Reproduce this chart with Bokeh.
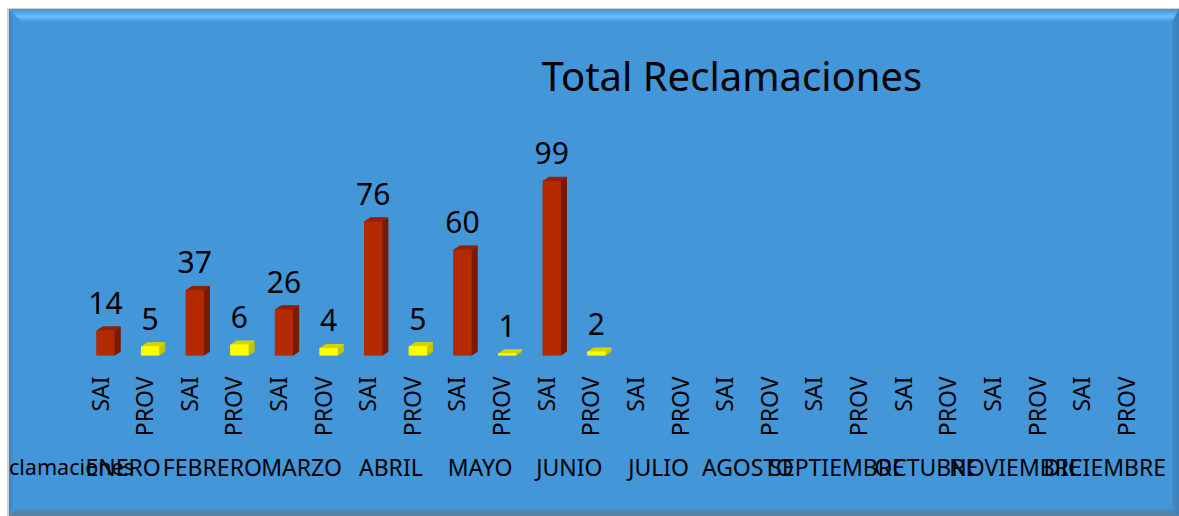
from urllib.parse import quote
from bokeh.plotting import figure
from bokeh.models import Range1d, LinearAxis, FixedTicker, Title
from bokeh.embed import file_html
from bokeh.resources import INLINE
from bokeh.core.properties import value

months = ["ENERO", "FEBRERO", "MARZO", "ABRIL", "MAYO", "JUNIO", "JULIO", "AGOSTO",
          "SEPTIEMBRE", "OCTUBRE", "NOVIEMBRE", "DICIEMBRE"]
series_names = ["SAI", "PROV"]
sai_values = [14, 37, 26, 76, 60, 99]
prov_values = [5, 6, 4, 5, 1, 2]
title_text = "Total Reclamaciones"
row_label = "clamaciones"

FONT = "Noto Sans"
W, H = 1179, 516
BG = "#4396D8"
PX_X = 44.62            # px per category slot
PX_Y = 1.76             # px per unit
LEFT_PX = 99            # canvas px to slot 0 tick
TOP_H = 102             # frame top
BASE_Y = 355            # baseline
BOTTOM = H - BASE_Y
FRAME_H = BASE_Y - TOP_H

p = figure(width=W, height=H, output_backend="svg", toolbar_location=None,
           min_border_left=0, min_border_right=0, min_border_top=TOP_H,
           min_border_bottom=BOTTOM, title=None,
           x_axis_location=None, y_axis_location=None,
           x_range=Range1d(-LEFT_PX / PX_X, (W - LEFT_PX) / PX_X),
           y_range=Range1d(0, FRAME_H / PX_Y))
p.background_fill_color = None
p.border_fill_color = None
p.outline_line_color = None
p.grid.visible = False

# panel with bevelled edges, drawn behind the canvas
svg = f'''<svg xmlns="http://www.w3.org/2000/svg" width="{W}" height="{H}">
<defs><linearGradient id="t" x1="0" y1="0" x2="0" y2="1">
<stop offset="0" stop-color="#3F92D6"/><stop offset="0.25" stop-color="#4FA4E6"/>
<stop offset="0.6" stop-color="#6CC0F8"/><stop offset="0.8" stop-color="#55A8E8"/><stop offset="1" stop-color="{BG}"/>
</linearGradient>
<linearGradient id="b" x1="0" y1="0" x2="0" y2="1">
<stop offset="0" stop-color="{BG}"/><stop offset="0.4" stop-color="#4A85B4"/><stop offset="1" stop-color="#5E7F99"/>
</linearGradient>
<linearGradient id="r" x1="0" y1="0" x2="1" y2="0">
<stop offset="0" stop-color="#3F8CCB"/><stop offset="1" stop-color="#3E7FB2"/>
</linearGradient>
<linearGradient id="l" x1="0" y1="0" x2="1" y2="0">
<stop offset="0" stop-color="#3A82BF"/><stop offset="1" stop-color="{BG}"/>
</linearGradient></defs>
<rect width="{W}" height="{H}" fill="#FFFFFF"/>
<rect x="7" y="8" width="{W-7}" height="{H-8}" fill="#D2D2D2"/>
<rect x="9" y="9" width="{W-9}" height="{H-9}" fill="{BG}"/>
<polygon points="9,9 {W},9 {W-7},22 22,22" fill="url(#t)"/>
<polygon points="9,9 14,22 14,{H-8} 9,{H}" fill="url(#l)"/>
<polygon points="{W-7},22 {W},9 {W},{H} {W-7},{H-7}" fill="url(#r)"/>
<polygon points="9,{H} 18,{H-8} {W-7},{H-8} {W},{H}" fill="url(#b)"/>
</svg>'''
p.styles = {"background-image": 'url("data:image/svg+xml,' + quote(svg) + '")',
            "background-repeat": "no-repeat"}

# title
p.add_layout(Title(text=title_text, align="left", offset=541, standoff=0, text_font=FONT,
                   text_font_size="40px", text_font_style="normal", text_color="#000000"), "above")

# tick positions
slots = list(range(len(months) * 2))
sub_labels = {i: series_names[i % 2] for i in slots}
group_ticks = [2 * i + 0.53 for i in range(len(months))]
group_labels = {t: m for t, m in zip(group_ticks, months)}
caption_tick = (71 - LEFT_PX) / PX_X

ax1 = LinearAxis(ticker=FixedTicker(ticks=slots), major_label_overrides=sub_labels)
ax1.major_label_orientation = 1.5708
ax1.major_label_standoff = 15
ax2 = LinearAxis(ticker=FixedTicker(ticks=group_ticks), major_label_overrides=group_labels)
ax2.major_label_standoff = 5
ax3 = LinearAxis(ticker=FixedTicker(ticks=[caption_tick]), major_label_overrides={caption_tick: row_label})
ax3.major_label_standoff = -40
for ax in (ax1, ax2, ax3):
    ax.axis_line_color = None
    ax.major_tick_line_color = None
    ax.minor_tick_line_color = None
    ax.major_label_text_font = FONT
    ax.major_label_text_font_size = "23px"
    ax.major_label_text_color = "#000000"
    p.add_layout(ax, "below")
ax3.major_label_text_font_size = "21.6px"

# bars with pseudo-3D sides
SHIFT = 6 / PX_X
HALF = 8.7 / PX_X
DX = 6 / PX_X
DY = 4 / PX_Y
def bars(xs, vals, front, side, top):
    xl = [x + SHIFT - HALF for x in xs]
    xr = [x + SHIFT + HALF for x in xs]
    p.patches([[r, r + DX, r + DX, r] for r in xr],
              [[0, DY, v + DY, v] for v in vals], fill_color=side, line_color=side)
    p.patches([[l, r, r + DX, l + DX] for l, r in zip(xl, xr)],
              [[v, v, v + DY, v + DY] for v in vals], fill_color=top, line_color=top)
    p.quad(left=xl, right=xr, bottom=0, top=vals, fill_color=front, line_color=front)
    p.text(x=[x + SHIFT for x in xs], y=vals, text=[str(v) for v in vals],
           text_font=value(FONT), text_font_size="30px", text_color="#000000",
           text_align="center", text_baseline="alphabetic", y_offset=-28)

bars([2 * i for i in range(len(sai_values))], sai_values, "#B32900", "#761B00", "#8F2100")
bars([2 * i + 1 for i in range(len(prov_values))], prov_values, "#FFFF00", "#C4C400", "#D4D400")

open("out.html", "w").write(file_html(p, INLINE))
